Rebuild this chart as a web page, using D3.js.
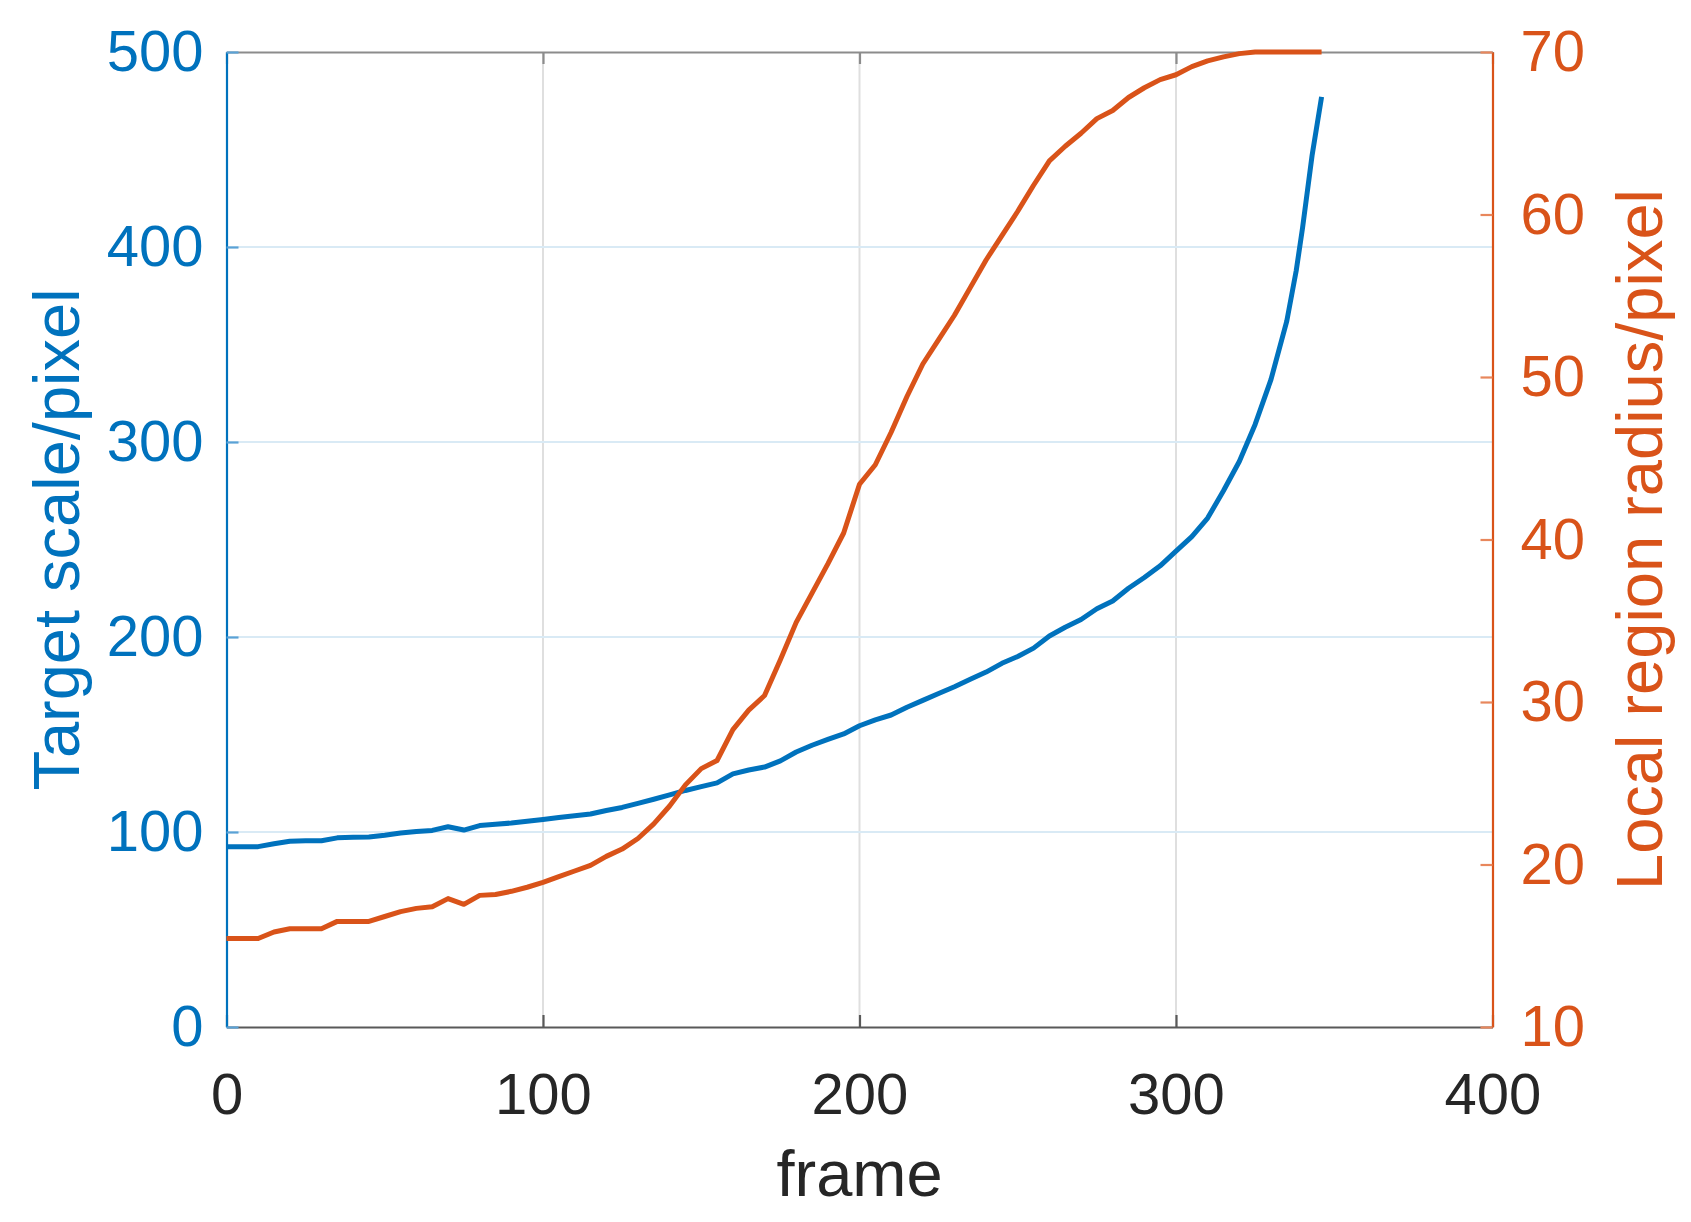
<!DOCTYPE html>
<html>
<head>
<meta charset="utf-8">
<script src="https://cdn.jsdelivr.net/npm/d3@7"></script>
<style>
  body { margin: 0; background: #fff; }
  svg { display: block; font-family: "Liberation Sans", Arial, Helvetica, sans-serif; }
</style>
</head>
<body>
<script>
// data
const frames = [0, 5, 10, 15, 20, 25, 30, 35, 40, 45, 50, 55, 60, 65, 70, 75, 80, 85, 90, 95,
  100, 105, 110, 115, 120, 125, 130, 135, 140, 145, 150, 155, 160, 165, 170, 175, 180, 185, 190, 195,
  200, 205, 210, 215, 220, 225, 230, 235, 240, 245, 250, 255, 260, 265, 270, 275, 280, 285, 290, 295,
  300, 305, 310, 315, 320, 325, 330, 335, 338, 340, 343, 346];

const targetScale = [92.5, 92.5, 92.5, 94, 95.3, 95.5, 95.5, 97, 97.3, 97.4, 98.3, 99.5, 100.3, 100.8, 102.7, 101, 103.3, 104, 104.6, 105.5,
  106.4, 107.4, 108.3, 109.2, 111, 112.6, 114.7, 116.8, 119, 121.3, 123.3, 125.2, 129.8, 131.8, 133.3, 136.5, 141, 144.5, 147.5, 150.3,
  154.5, 157.5, 160, 164, 167.5, 171, 174.5, 178.3, 182, 186.5, 190, 194.3, 200.5, 205, 209, 214.5, 218.5, 225, 230.5, 236.5,
  244, 251.5, 261, 275, 290, 309, 332, 362, 388, 410, 447, 477];

const localRadius = [15.45, 15.45, 15.45, 15.85, 16.05, 16.05, 16.05, 16.5, 16.5, 16.5, 16.8, 17.1, 17.3, 17.4, 17.9, 17.55, 18.1, 18.15, 18.35, 18.6,
  18.9, 19.25, 19.6, 19.95, 20.5, 20.95, 21.6, 22.5, 23.6, 24.9, 25.9, 26.4, 28.3, 29.5, 30.4, 32.6, 34.9, 36.7, 38.5, 40.4,
  43.4, 44.6, 46.6, 48.8, 50.8, 52.3, 53.8, 55.5, 57.2, 58.7, 60.2, 61.8, 63.3, 64.2, 65.0, 65.9, 66.4, 67.2, 67.8, 68.3,
  68.6, 69.1, 69.45, 69.7, 69.9, 70, 70, 70, 70, 70, 70, 70];

const xTicks = [0, 100, 200, 300, 400];
const leftTicks = [0, 100, 200, 300, 400, 500];
const rightTicks = [10, 20, 30, 40, 50, 60, 70];

const xLabel = 'frame';
const leftLabel = 'Target scale/pixel';
const rightLabel = 'Local region radius/pixel';

// canvas
let width = 1691;
let height = 1222;
let plotLeft = 226.5, plotRight = 1492.5, plotTop = 52, plotBottom = 1027;
let blue = '#0072BD';
let orange = '#D95319';
let dark = '#262626';
let tickFont = 58;
let labelFont = 65;

let svg = d3.select('body').append('svg')
  .attr('width', width)
  .attr('height', height);

svg.append('rect').attr('width', width).attr('height', height).attr('fill', '#fff');

let xScale = d3.scaleLinear().domain([0, 400]).range([plotLeft, plotRight]);
let yLeft = d3.scaleLinear().domain([0, 500]).range([plotBottom, plotTop]);
let yRight = d3.scaleLinear().domain([10, 70]).range([plotBottom, plotTop]);

// grid lines
svg.append('g').selectAll('line')
  .data(xTicks.slice(1, -1))
  .enter().append('line')
  .attr('x1', d => xScale(d)).attr('x2', d => xScale(d))
  .attr('y1', plotTop).attr('y2', plotBottom)
  .attr('stroke', '#dfdfdf').attr('stroke-width', 2);

svg.append('g').selectAll('line')
  .data(leftTicks.slice(1, -1))
  .enter().append('line')
  .attr('x1', plotLeft).attr('x2', plotRight)
  .attr('y1', d => yLeft(d)).attr('y2', d => yLeft(d))
  .attr('stroke', '#d9eaf5').attr('stroke-width', 2);

// axes (ticks pointing inward like matlab)
let styleAxis = (g, color) => {
  g.selectAll('path.domain').attr('stroke', color).attr('stroke-width', 2.2);
  g.selectAll('.tick line').attr('stroke', color).attr('stroke-width', 2.2);
  g.selectAll('.tick text').attr('fill', color).style('font-size', tickFont + 'px');
};

let xAxis = svg.append('g')
  .attr('transform', 'translate(0,' + plotBottom + ')')
  .call(d3.axisBottom(xScale).tickValues(xTicks).tickSize(-12).tickSizeOuter(0).tickPadding(46));
styleAxis(xAxis, dark);
xAxis.selectAll('path.domain').attr('stroke', '#595959');
xAxis.selectAll('.tick line').attr('stroke', '#595959');

let topAxis = svg.append('g')
  .attr('transform', 'translate(0,' + plotTop + ')')
  .call(d3.axisTop(xScale).tickValues(xTicks).tickSize(-12).tickSizeOuter(0).tickFormat(''));
styleAxis(topAxis, '#8c8c8c');

let yAxisL = svg.append('g')
  .attr('transform', 'translate(' + plotLeft + ',0)')
  .call(d3.axisLeft(yLeft).tickValues(leftTicks).tickSize(-12).tickSizeOuter(0).tickPadding(23));
styleAxis(yAxisL, blue);
yAxisL.selectAll('.tick line').attr('stroke', '#5aa2d6');

let yAxisR = svg.append('g')
  .attr('transform', 'translate(' + plotRight + ',0)')
  .call(d3.axisRight(yRight).tickValues(rightTicks).tickSize(-12).tickSizeOuter(0).tickPadding(28));
styleAxis(yAxisR, orange);
yAxisR.selectAll('.tick line').attr('stroke', '#e8875c');

// curves
let rows = frames.map((f, i) => ({ frame: f, scale: targetScale[i], radius: localRadius[i] }));

svg.append('path')
  .datum(rows)
  .attr('fill', 'none')
  .attr('stroke', blue)
  .attr('stroke-width', 5)
  .attr('stroke-linejoin', 'round')
  .attr('d', d3.line().x(d => xScale(d.frame)).y(d => yLeft(d.scale)));

svg.append('path')
  .datum(rows)
  .attr('fill', 'none')
  .attr('stroke', orange)
  .attr('stroke-width', 5)
  .attr('stroke-linejoin', 'round')
  .attr('d', d3.line().x(d => xScale(d.frame)).y(d => yRight(d.radius)));

// axis captions
svg.append('text')
  .text(xLabel)
  .attr('x', (plotLeft + plotRight) / 2)
  .attr('y', 1196)
  .attr('text-anchor', 'middle')
  .attr('fill', dark)
  .style('font-size', labelFont + 'px');

svg.append('text')
  .text(leftLabel)
  .attr('transform', 'translate(79,' + (plotTop + plotBottom) / 2 + ') rotate(-90)')
  .attr('text-anchor', 'middle')
  .attr('fill', blue)
  .style('font-size', labelFont + 'px');

svg.append('text')
  .text(rightLabel)
  .attr('transform', 'translate(1662,' + (plotTop + plotBottom) / 2 + ') rotate(-90)')
  .attr('text-anchor', 'middle')
  .attr('fill', orange)
  .style('font-size', labelFont + 'px');
</script>
</body>
</html>
